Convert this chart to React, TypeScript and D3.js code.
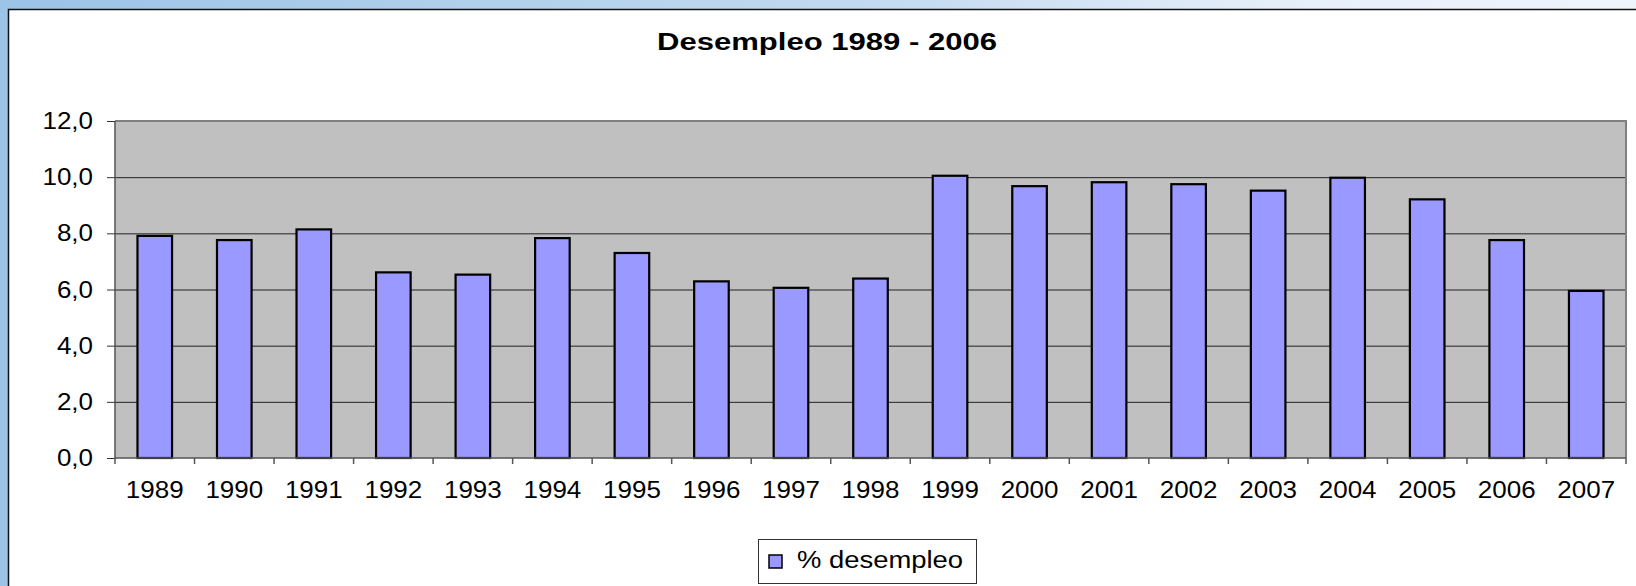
import { useEffect, useRef } from 'react';
import * as d3 from 'd3';

const years = ['1989', '1990', '1991', '1992', '1993', '1994', '1995', '1996', '1997', '1998',
  '1999', '2000', '2001', '2002', '2003', '2004', '2005', '2006', '2007'];
const desempleo = [7.91, 7.76, 8.14, 6.61, 6.53, 7.83, 7.3, 6.29, 6.06, 6.39,
  10.05, 9.68, 9.82, 9.75, 9.52, 9.98, 9.21, 7.76, 5.95];
const yTicks = [0, 2, 4, 6, 8, 10, 12];
const seriesName = '% desempleo';
const chartTitle = 'Desempleo 1989 - 2006';

const W = 1636;
const H = 586;
const FONT = '"Liberation Sans", Arial, sans-serif';

export default function App() {
  const svgRef = useRef<SVGSVGElement>(null);

  useEffect(() => {
    if (!svgRef.current) return;
    const svg = d3.select(svgRef.current);
    svg.selectAll('*').remove();

    // window background + panel
    const defs = svg.append('defs');
    const grad = defs.append('linearGradient').attr('id', 'topgrad')
      .attr('x1', '0%').attr('x2', '100%').attr('y1', '0%').attr('y2', '0%');
    grad.append('stop').attr('offset', '0%').attr('stop-color', '#9bc3e6');
    grad.append('stop').attr('offset', '55%').attr('stop-color', '#c4dbf0');
    grad.append('stop').attr('offset', '80%').attr('stop-color', '#e8f0fa');
    grad.append('stop').attr('offset', '100%').attr('stop-color', '#eef4fb');

    svg.append('rect').attr('width', W).attr('height', H).attr('fill', '#9dc4e6');
    svg.append('rect').attr('width', W).attr('height', 9).attr('fill', 'url(#topgrad)');
    svg.append('rect').attr('x', 8.5).attr('y', 9.5).attr('width', W).attr('height', H)
      .attr('fill', '#fff').attr('stroke', '#111').attr('stroke-width', 1.5);

    const plot = { left: 115, top: 121, right: 1626, bottom: 458 };

    const x = d3.scaleBand().domain(years).range([plot.left, plot.right]).paddingInner(0).paddingOuter(0);
    const y = d3.scaleLinear().domain([0, 12]).range([plot.bottom, plot.top]);

    // plot area
    svg.append('rect')
      .attr('x', plot.left).attr('y', plot.top)
      .attr('width', plot.right - plot.left).attr('height', plot.bottom - plot.top)
      .attr('fill', '#c0c0c0');

    // gridlines
    svg.append('g').selectAll('line')
      .data(yTicks.filter(t => t > 0 && t < 12))
      .enter().append('line')
      .attr('x1', plot.left).attr('x2', plot.right)
      .attr('y1', d => y(d) + 0.5).attr('y2', d => y(d) + 0.5)
      .attr('stroke', '#222').attr('stroke-width', 1);

    // border top / right
    svg.append('path')
      .attr('d', `M${plot.left},${plot.top} H${plot.right} V${plot.bottom}`)
      .attr('fill', 'none').attr('stroke', '#808080').attr('stroke-width', 2);

    // bars
    const bw = x.bandwidth() / 2.3;
    svg.append('g').selectAll('rect')
      .data(desempleo)
      .enter().append('rect')
      .attr('x', (d, i) => x(years[i])! + (x.bandwidth() - bw) / 2)
      .attr('y', d => y(d))
      .attr('width', bw)
      .attr('height', d => plot.bottom - y(d))
      .attr('fill', '#9999ff')
      .attr('stroke', '#000')
      .attr('stroke-width', 2.2);

    // y axis
    const yAxis = svg.append('g');
    yAxis.append('line')
      .attr('x1', plot.left).attr('x2', plot.left)
      .attr('y1', plot.top).attr('y2', plot.bottom)
      .attr('stroke', '#555').attr('stroke-width', 1.5);
    yAxis.selectAll('line.tick')
      .data(yTicks).enter().append('line').attr('class', 'tick')
      .attr('x1', plot.left - 8).attr('x2', plot.left)
      .attr('y1', d => y(d) + 0.5).attr('y2', d => y(d) + 0.5)
      .attr('stroke', '#333');
    yAxis.selectAll('text')
      .data(yTicks).enter().append('text')
      .attr('transform', d => `translate(93,${y(d) + 8}) scale(1.13,1)`)
      .attr('text-anchor', 'end')
      .attr('font-family', FONT).attr('font-size', 23).attr('fill', '#000')
      .text(d => d3.format('.1f')(d).replace('.', ','));

    // x axis
    const xAxis = svg.append('g');
    xAxis.append('line')
      .attr('x1', plot.left).attr('x2', plot.right)
      .attr('y1', plot.bottom).attr('y2', plot.bottom)
      .attr('stroke', '#555').attr('stroke-width', 1.5);
    const bounds = years.map(yr => x(yr)!).concat([plot.right]);
    xAxis.selectAll('line.tick')
      .data(bounds).enter().append('line').attr('class', 'tick')
      .attr('x1', d => d).attr('x2', d => d)
      .attr('y1', plot.bottom).attr('y2', plot.bottom + 6)
      .attr('stroke', '#555').attr('stroke-width', 1.5);
    xAxis.selectAll('text')
      .data(years).enter().append('text')
      .attr('transform', d => `translate(${x(d)! + x.bandwidth() / 2},498) scale(1.13,1)`)
      .attr('text-anchor', 'middle')
      .attr('font-family', FONT).attr('font-size', 23).attr('fill', '#000')
      .text(d => d);

    // title
    svg.append('text')
      .attr('x', 657).attr('y', 50)
      .attr('textLength', 340).attr('lengthAdjust', 'spacingAndGlyphs')
      .attr('font-family', FONT).attr('font-size', 23).attr('font-weight', 'bold')
      .text(chartTitle);

    // legend
    const lg = svg.append('g');
    lg.append('rect')
      .attr('x', 758.5).attr('y', 539.5).attr('width', 218).attr('height', 44)
      .attr('fill', '#fff').attr('stroke', '#333').attr('stroke-width', 1);
    lg.append('rect')
      .attr('x', 769).attr('y', 555).attr('width', 13).attr('height', 13)
      .attr('fill', '#9999ff').attr('stroke', '#000').attr('stroke-width', 1.5);
    lg.append('text')
      .attr('x', 797).attr('y', 568)
      .attr('textLength', 166).attr('lengthAdjust', 'spacingAndGlyphs')
      .attr('font-family', FONT).attr('font-size', 23)
      .text(seriesName);
  }, []);

  return (
    <div style={{ position: 'absolute', left: 0, top: 0, width: W, height: H, overflow: 'hidden' }}>
      <svg ref={svgRef} width={W} height={H} style={{ display: 'block' }} />
    </div>
  );
}
